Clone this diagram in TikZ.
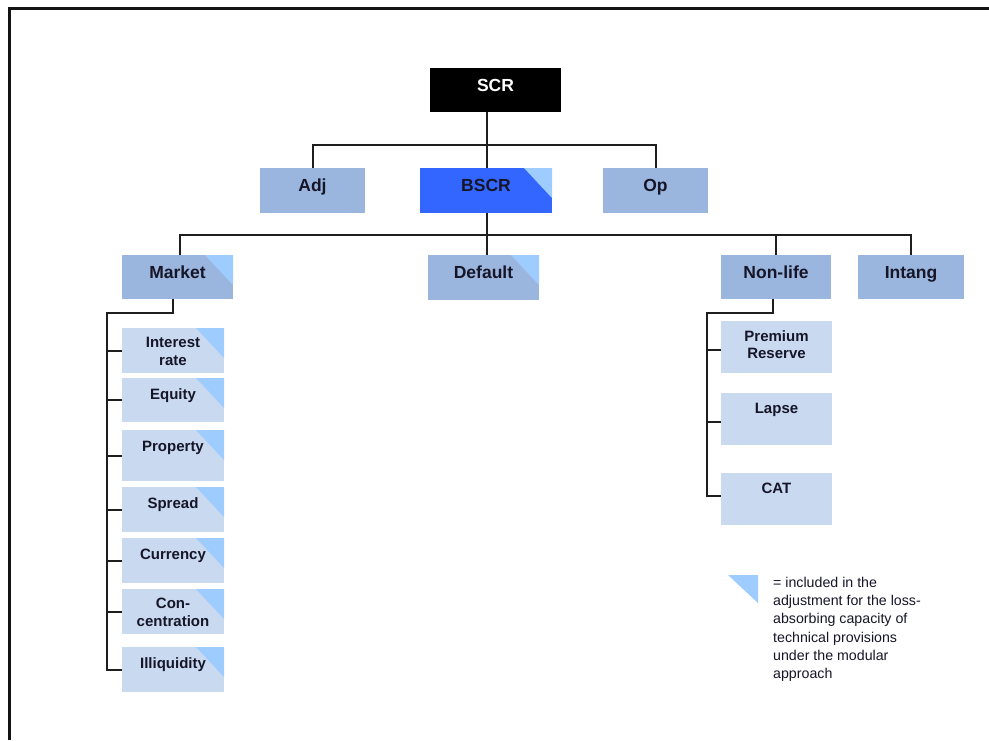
\documentclass[tikz,border=0pt]{standalone}
\usepackage{fontspec}
\setmainfont{Liberation Sans}
\usetikzlibrary{calc}
\definecolor{topfill}{RGB}{155,182,222}
\definecolor{subfill}{RGB}{201,217,240}
\definecolor{bscrfill}{RGB}{51,102,255}
\definecolor{tricol}{RGB}{158,204,255}
\definecolor{linecol}{RGB}{30,30,30}
\definecolor{txtcol}{RGB}{22,22,40}
\definecolor{framecol}{RGB}{20,20,20}
\begin{document}
\begin{tikzpicture}[x=1pt,y=-1pt,
  box/.style={rectangle, draw=none, inner sep=0pt, outer sep=0pt, anchor=north west},
  lvbox/.style={box, fill=topfill},
  subbox/.style={box, fill=subfill},
  corner/.style={path picture={\fill[tricol] (path picture bounding box.north east) -- ++(-28pt,0pt) -- ($(path picture bounding box.north east)+(0pt,-30pt)$) -- cycle;}},
  toptext/.style={anchor=base, inner sep=0pt, text=txtcol, font=\fontsize{17.5}{21}\selectfont\bfseries},
  subtext/.style={anchor=base, inner sep=0pt, text=txtcol, font=\fontsize{15}{18.5}\selectfont\bfseries},
  subtwo/.style={inner sep=0pt, text=txtcol, align=center, font=\fontsize{15}{18.5}\selectfont\bfseries},
  nltwo/.style={inner sep=0pt, text=txtcol, align=center, font=\fontsize{15}{17}\selectfont\bfseries},
  conn/.style={draw=linecol, line width=2pt}
]
\useasboundingbox (0,0) rectangle (989,740);
\fill[white] (0,0) rectangle (989,740);
% frame
\draw[framecol, line width=3pt] (9.5,740) -- (9.5,8.5) -- (989,8.5);

% level 0
\node[box, fill=black, minimum width=131, minimum height=44] (scr) at (430,68) {};
\node[toptext, text=white] at ($(scr.north)+(0,23)$) {SCR};

% level 1
\node[lvbox, minimum width=105, minimum height=45] (adj) at (260,168) {};
\node[toptext] at ($(adj.north)+(0,23)$) {Adj};
\node[box, fill=bscrfill, corner, minimum width=132, minimum height=45] (bscr) at (420,168) {};
\node[toptext] at ($(bscr.north)+(0,23)$) {BSCR};
\node[lvbox, minimum width=105, minimum height=45] (op) at (603,168) {};
\node[toptext] at ($(op.north)+(0,23)$) {Op};

% level 2
\node[lvbox, corner, minimum width=111, minimum height=44] (market) at (122,255) {};
\node[toptext] at ($(market.north)+(0,23)$) {Market};
\node[lvbox, corner, minimum width=111, minimum height=45] (default) at (428,255) {};
\node[toptext] at ($(default.north)+(0,23)$) {Default};
\node[lvbox, minimum width=110, minimum height=44] (nonlife) at (721,255) {};
\node[toptext] at ($(nonlife.north)+(0,23)$) {Non-life};
\node[lvbox, minimum width=106, minimum height=44] (intang) at (858,255) {};
\node[toptext] at ($(intang.north)+(0,23)$) {Intang};

% market sub-modules
\node[subbox, corner, minimum width=102, minimum height=45] (ir) at (122,328) {};
\node[subtwo] at ($(ir.center)+(0,1)$) {Interest\\rate};
\node[subbox, corner, minimum width=102, minimum height=44] (eq) at (122,378) {};
\node[subtext] at ($(eq.north)+(0,21)$) {Equity};
\node[subbox, corner, minimum width=102, minimum height=51] (prop) at (122,430) {};
\node[subtext] at ($(prop.north)+(0,21)$) {Property};
\node[subbox, corner, minimum width=102, minimum height=45] (spread) at (122,487) {};
\node[subtext] at ($(spread.north)+(0,21)$) {Spread};
\node[subbox, corner, minimum width=102, minimum height=45] (curr) at (122,538) {};
\node[subtext] at ($(curr.north)+(0,21)$) {Currency};
\node[subbox, corner, minimum width=102, minimum height=45] (conc) at (122,589) {};
\node[subtwo] at ($(conc.center)+(0,1)$) {Con-\\centration};
\node[subbox, corner, minimum width=102, minimum height=45] (illiq) at (122,647) {};
\node[subtext] at ($(illiq.north)+(0,21)$) {Illiquidity};

% non-life sub-modules
\node[subbox, minimum width=111, minimum height=52] (prem) at (721,321) {};
\node[nltwo] at ($(prem.center)+(0,-2)$) {Premium\\Reserve};
\node[subbox, minimum width=111, minimum height=52] (lapse) at (721,393) {};
\node[subtext] at ($(lapse.north)+(0,20.5)$) {Lapse};
\node[subbox, minimum width=111, minimum height=52] (cat) at (721,473) {};
\node[subtext] at ($(cat.north)+(0,20.5)$) {CAT};

% connectors level 0 -> 1
\coordinate (bar1) at (0,145);
\draw[conn] (487,0 |- scr.south) -- (487,0 |- bscr.north);
\draw[conn] (adj.north) -- (adj.north |- bar1) -- (op.north |- bar1) -- (op.north);

% connectors level 1 -> 2
\coordinate (bar2) at (0,235);
\draw[conn] (487,0 |- bscr.south) -- (487,0 |- default.north);
\draw[conn] (180,0 |- market.north) -- (180,0 |- bar2) -- (intang.north |- bar2) -- (intang.north);
\draw[conn] (nonlife.north) -- (nonlife.north |- bar2);

% market sub connectors
\coordinate (mk) at (107,313);
\draw[conn] (173,0 |- market.south) -- (173,0 |- mk) -- (mk) -- (mk |- illiq.west) -- (illiq.west);
\foreach \n in {ir,eq,prop,spread,curr,conc}{
  \draw[conn] (mk |- \n.west) -- (\n.west);
}

% non-life sub connectors
\coordinate (nl) at (707,313);
\draw[conn] (773,0 |- nonlife.south) -- (773,0 |- nl) -- (nl) -- ($(nl |- cat.west)+(0,-3)$) -- ($(cat.west)+(0,-3)$);
\draw[conn] ($(nl |- prem.west)+(0,3)$) -- ($(prem.west)+(0,3)$);
\draw[conn] ($(nl |- lapse.west)+(0,3)$) -- ($(lapse.west)+(0,3)$);

% legend
\fill[tricol] (728,575) -- (758,575) -- (758,603) -- cycle;
\node[anchor=north west, inner sep=0pt, align=left, text=txtcol,
      font=\fontsize{14.2}{18.2}\selectfont] (legend) at (773,577)
  {= included in the\\adjustment for the loss-\\absorbing capacity of\\technical provisions\\under the modular\\approach};
\end{tikzpicture}
\end{document}
